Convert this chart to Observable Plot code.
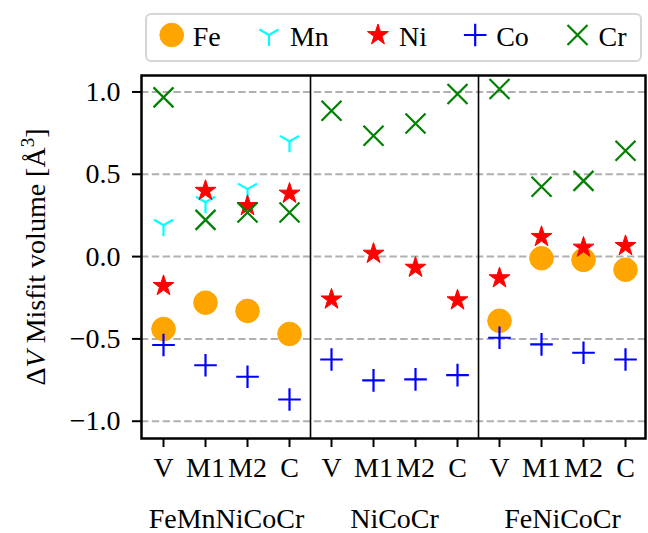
<!DOCTYPE html>
<html><head><meta charset="utf-8">
<script src="https://cdn.jsdelivr.net/npm/d3@7"></script>
<script src="https://cdn.jsdelivr.net/npm/@observablehq/plot@0.6"></script>
<style>
body{margin:0;background:#fff;font-family:"Liberation Serif","Times New Roman",serif;}
#wrap{width:648px;height:533px;position:relative;overflow:hidden;background:#fff}
#legend svg, #chart svg{display:block}
</style></head>
<body><div id="wrap"><div id="legend"></div><div id="chart"></div></div>
<script>
// ---- data ----
const sites = ["V", "M1", "M2", "C"];
const alloys = ["FeMnNiCoCr", "NiCoCr", "FeNiCoCr"];
const yTicks = [-1.0, -0.5, 0.0, 0.5, 1.0];
const elements = ["Fe", "Mn", "Ni", "Co", "Cr"];
const Fe = [-0.44, -0.28, -0.33, -0.47,  null, null, null, null,  -0.39, -0.01, -0.02, -0.08];
const Mn = [0.19, 0.33, 0.41, 0.70,  null, null, null, null,  null, null, null, null];
const Ni = [-0.178, 0.40, 0.308, 0.383,  -0.26, 0.018, -0.067, -0.265,  -0.131, 0.12, 0.055, 0.065];
const Co = [-0.537, -0.66, -0.73, -0.868,  -0.625, -0.752, -0.746, -0.72,  -0.493, -0.533, -0.584, -0.625];
const Cr = [0.967, 0.223, 0.268, 0.268,  0.886, 0.734, 0.809, 0.988,  1.018, 0.424, 0.46, 0.643];
const values = {Fe, Mn, Ni, Co, Cr};

const FONT = "'Liberation Serif', 'Times New Roman', serif";

// ---- marker shapes (matplotlib-like) ----
const R = s => Math.sqrt(s / Math.PI);
const triDown = {draw(c, s){const r=R(s); c.moveTo(0,0); c.lineTo(0,r); c.moveTo(0,0); c.lineTo(0.866*r,-0.5*r); c.moveTo(0,0); c.lineTo(-0.866*r,-0.5*r);}};
const plusSym = {draw(c, s){const r=R(s); c.moveTo(-r,0); c.lineTo(r,0); c.moveTo(0,-r); c.lineTo(0,r);}};
const xSym = {draw(c, s){const r=R(s); c.moveTo(-r,-r); c.lineTo(r,r); c.moveTo(-r,r); c.lineTo(r,-r);}};
const starSym = {draw(c, s){const r=R(s); for(let i=0;i<10;i++){const rad=i%2?r*0.381966:r; const a=Math.PI/2+i*Math.PI/5; const x=rad*Math.cos(a), y=-rad*Math.sin(a); if(i===0) c.moveTo(x,y); else c.lineTo(x,y);} c.closePath();}};
const circSym = {draw(c, s){const r=R(s); c.moveTo(r,0); c.arc(0,0,r,0,2*Math.PI);}};

const styles = {
  Fe: {symbol: circSym, r: 11.8, fill: "#ffa500", stroke: "#ffa500", strokeWidth: 1},
  Mn: {symbol: triDown, r: 11, fill: "none", stroke: "#00ffff", strokeWidth: 2.2},
  Ni: {symbol: starSym, r: 11, fill: "#ff0000", stroke: "#ff0000", strokeWidth: 1},
  Co: {symbol: plusSym, r: 11.3, fill: "none", stroke: "#0000ff", strokeWidth: 2.2},
  Cr: {symbol: xSym, r: 10, fill: "none", stroke: "#008000", strokeWidth: 2.2}
};

const nS = sites.length;
const rowsFor = el => values[el].map((v, i) => ({x: i, y: v}));
const xIdx = d3.range(alloys.length * nS);
const seps = d3.range(1, alloys.length).map(k => k * nS - 0.5);
const groupPos = alloys.map((a, k) => k * nS + (nS - 1) / 2);

const chart = Plot.plot({
  width: 648, height: 463,
  marginTop: 5, marginBottom: 95, marginLeft: 141, marginRight: 3,
  style: {fontFamily: FONT, fontSize: "28px", background: "white", color: "black", overflow: "visible"},
  x: {domain: [-0.524, alloys.length * nS - 0.524]},
  y: {domain: [-1.105, 1.1]},
  marks: [
    Plot.gridY(yTicks, {stroke: "#b0b0b0", strokeOpacity: 1, strokeWidth: 2, strokeDasharray: "7.4,3.4"}),
    ...elements.map(el => Plot.dot(rowsFor(el), {x: "x", y: "y", ...styles[el]})),
    Plot.ruleX(seps, {stroke: "black", strokeWidth: 1.6}),
    Plot.frame({stroke: "black", strokeWidth: 2.5}),
    Plot.axisY(yTicks, {label: null, tickSize: 9, tickPadding: 12, strokeWidth: 2, tickFormat: d3.format(".1f")}),
    Plot.axisX(xIdx, {label: null, tickSize: 9, tickPadding: 10, strokeWidth: 2, tickFormat: i => sites[i % nS]}),
    Plot.axisX(groupPos, {label: null, tickSize: 0, tickPadding: 70, tickFormat: d => alloys[groupPos.indexOf(d)]}),
    Plot.text(["ΔV Misfit volume [Å3]"], {text: d => d, frameAnchor: "left", dx: -97, rotate: -90, lineAnchor: "bottom", textAnchor: "middle"})
  ]
});
document.getElementById("chart").appendChild(chart);

// rich y-label (italic V, superscript 3)
d3.select(chart).selectAll("text").filter(function(){ return this.textContent.includes("Misfit"); }).each(function(){
  const t = d3.select(this); t.text("");
  t.append("tspan").text("Δ");
  t.append("tspan").attr("font-style", "italic").text("V");
  t.append("tspan").text(" Misfit volume [Å");
  t.append("tspan").attr("dy", -11).attr("font-size", 19).text("3");
  t.append("tspan").attr("dy", 11).text("]");
});

// legend (SVG, same text rendering as the chart)
const leg = d3.select("#legend").append("svg").attr("width", 648).attr("height", 70)
  .style("font-family", FONT).style("font-size", "28px");
leg.append("rect").attr("x", 146).attr("y", 14).attr("width", 495).attr("height", 47).attr("rx", 5)
  .attr("fill", "white").attr("stroke", "#d6d6d6").attr("stroke-width", 2);
let cx = 171.7;
elements.forEach(el => {
  const s = styles[el];
  leg.append("path").attr("transform", `translate(${cx},35)`)
    .attr("d", d3.symbol(s.symbol, s.r * s.r * Math.PI)())
    .attr("fill", s.fill).attr("stroke", s.stroke).attr("stroke-width", s.strokeWidth);
  const t = leg.append("text").attr("x", cx + 21).attr("y", 46).attr("fill", "black").text(el);
  cx = cx + 21 + t.node().getComputedTextLength() * 1.08 + 46;
});
</script>
</body></html>
